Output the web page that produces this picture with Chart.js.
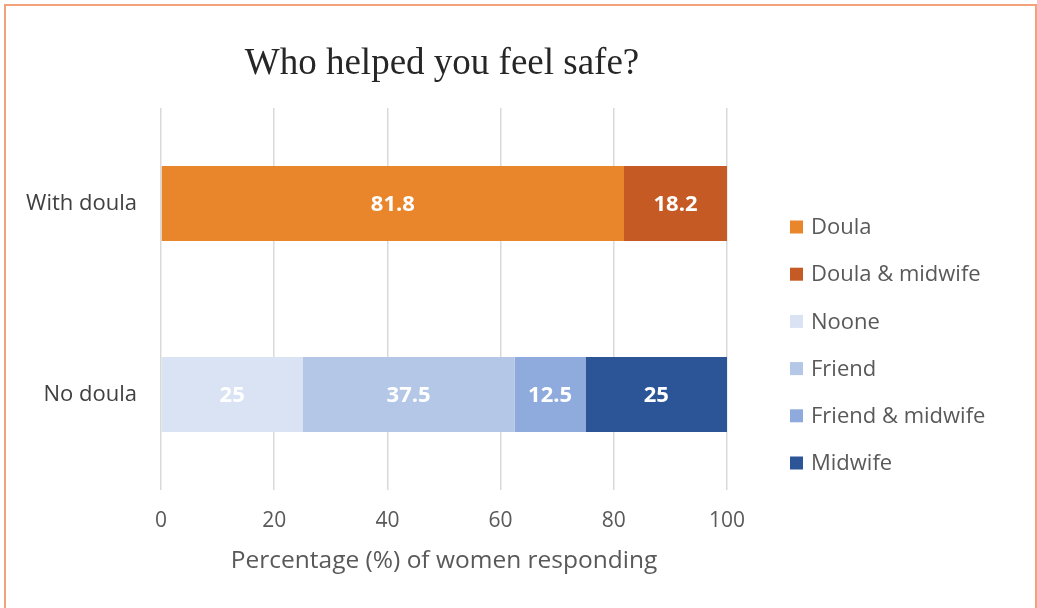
<!DOCTYPE html>
<html lang="en">
  <head>
    <meta charset="UTF-8" />
    <title>Who helped you feel safe?</title>
    <script src="https://cdn.jsdelivr.net/npm/chart.js@4"></script>
    <style>
      body {
        margin: 0;
        background: #fff;
        overflow: hidden;
      }
      #frame {
        position: absolute;
        left: 4px;
        top: 4px;
        width: 1033px;
        height: 640px;
        border: 2.5px solid #f4a27c;
        box-sizing: border-box;
      }
      #wrap {
        position: absolute;
        left: 0;
        top: 0;
        width: 1037px;
        height: 608px;
      }
    </style>
  </head>
  <body>
    <div id="frame"></div>
    <div id="wrap"><canvas id="safeChart"></canvas></div>
    <script>
      const categories = ["With doula", "No doula"];
      const seriesNames = ["Doula", "Doula & midwife", "Noone", "Friend", "Friend & midwife", "Midwife"];
      const doula = [81.8, null];
      const doulaMidwife = [18.2, null];
      const noone = [null, 25];
      const friend = [null, 37.5];
      const friendMidwife = [null, 12.5];
      const midwife = [null, 25];
      const xTicks = [0, 20, 40, 60, 80, 100];

      const colors = ["#e9852a", "#c55a24", "#dae3f3", "#b4c7e7", "#8faadc", "#2c5597"];
      const values = [doula, doulaMidwife, noone, friend, friendMidwife, midwife];

      const data = {
        labels: categories,
        datasets: seriesNames.map(function (name, i) {
          return {
            label: name,
            data: values[i],
            backgroundColor: colors[i],
            borderWidth: 0,
            barPercentage: 0.4,
            categoryPercentage: 0.98,
          };
        }),
      };

      // bar values, title and legend drawn on the canvas
      const extras = {
        id: "extras",
        afterDatasetsDraw(chart) {
          const ctx = chart.ctx;
          ctx.save();
          ctx.fillStyle = "#ffffff";
          ctx.font = "bold 22px 'Open Sans'";
          ctx.textAlign = "center";
          ctx.textBaseline = "middle";
          chart.data.datasets.forEach(function (ds, i) {
            chart.getDatasetMeta(i).data.forEach(function (bar, j) {
              const v = ds.data[j];
              if (v === null) return;
              const x = (bar.x + bar.base) / 2;
              ctx.fillText(String(v), x, bar.y + 1);
            });
          });

          ctx.fillStyle = "#262626";
          ctx.font = "37px 'Liberation Serif'";
          ctx.fillText("Who helped you feel safe?", 442, 64);

          ctx.textAlign = "left";
          ctx.font = "22px 'Open Sans'";
          chart.data.datasets.forEach(function (ds, i) {
            const y = 227 + i * 47.2;
            ctx.fillStyle = ds.backgroundColor;
            ctx.fillRect(790, y - 6.5, 13, 13);
            ctx.fillStyle = "#595959";
            ctx.fillText(ds.label, 811, y + 1);
          });
          ctx.restore();
        },
      };

      const config = {
        type: "bar",
        data: data,
        plugins: [extras],
        options: {
          indexAxis: "y",
          responsive: true,
          maintainAspectRatio: false,
          animation: false,
          layout: { padding: { top: 108, right: 310, left: 0, bottom: 0 } },
          plugins: {
            legend: { display: false },
            title: { display: false },
            tooltip: { enabled: false },
          },
          scales: {
            x: {
              stacked: true,
              min: 0,
              max: 100,
              afterBuildTicks: function (scale) {
                scale.ticks = xTicks.map(function (v) {
                  return { value: v };
                });
              },
              afterFit: function (scale) {
                scale.height = 118;
              },
              grid: { color: "#d9d9d9", lineWidth: 1.5, drawTicks: false },
              border: { display: false },
              ticks: {
                color: "#595959",
                font: { family: "Open Sans", size: 21 },
                padding: 18,
              },
              title: {
                display: true,
                text: "Percentage (%) of women responding",
                color: "#595959",
                font: { family: "Open Sans", size: 24.5 },
                padding: { top: 0, bottom: 32 },
              },
            },
            y: {
              stacked: true,
              afterFit: function (scale) {
                scale.width = 161;
              },
              grid: { display: false, drawTicks: false },
              border: { display: false },
              ticks: {
                color: "#404040",
                font: { family: "Open Sans", size: 22 },
                padding: 24,
              },
            },
          },
        },
      };

      new Chart(document.getElementById("safeChart"), config);
    </script>
  </body>
</html>
